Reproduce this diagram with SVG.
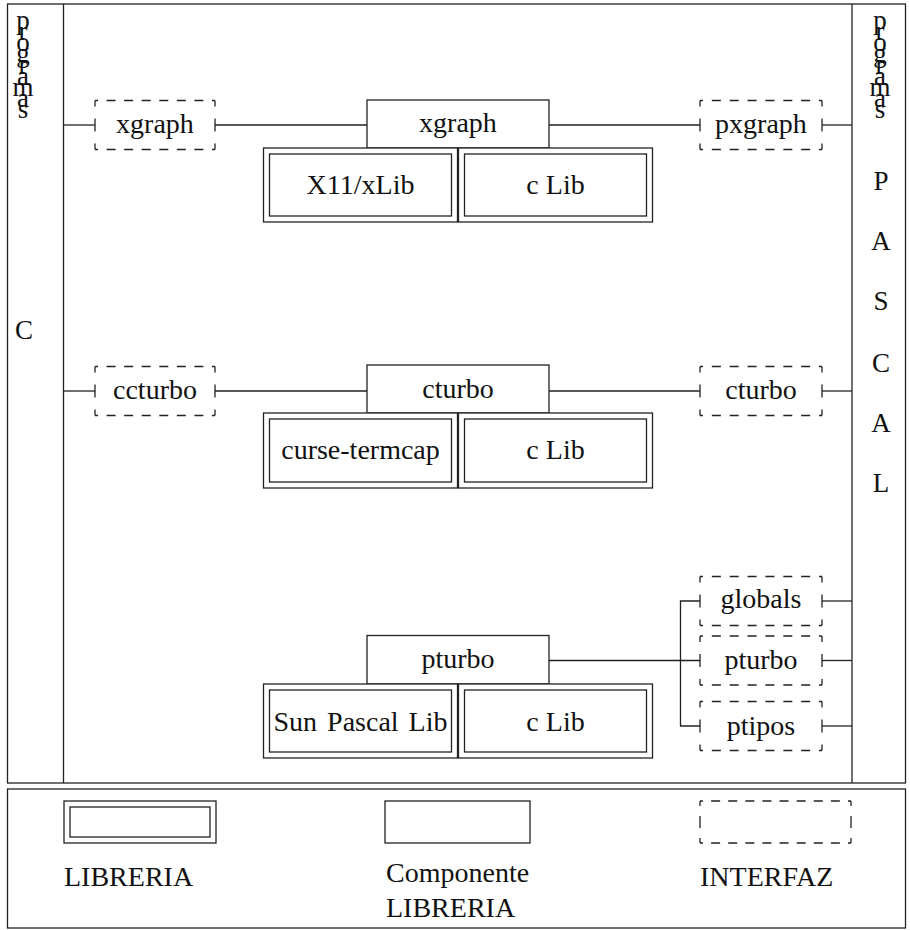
<svg xmlns="http://www.w3.org/2000/svg" width="910" height="930" viewBox="0 0 910 930">
<style>
  .ln { stroke:#222; stroke-width:1.3; fill:none; }
  .bx { stroke:#222; stroke-width:1.3; fill:#fff; }
  .d { stroke:#222; stroke-width:1.3; fill:none; }
  .h120 { stroke-dasharray: 3 8.57 9 8.57 9 8.57 9 8.57 9 8.57 9 8.57 9 8.57 3; }
  .h122 { stroke-dasharray: 3 8.86 9 8.86 9 8.86 9 8.86 9 8.86 9 8.86 9 8.86 3; }
  .h151 { stroke-dasharray: 3 8.11 9 8.11 9 8.11 9 8.11 9 8.11 9 8.11 9 8.11 9 8.11 9 8.11 3; }
  .v49 { stroke-dasharray: 6 12 13 12 6; }
  .v42 { stroke-dasharray: 5 10 12 10 5; }
  text { font-family: Tinos, "Times New Roman", Times, "Nimbus Roman", "Nimbus Roman No9 L", FreeSerif, "Liberation Serif", "DejaVu Serif", serif; fill:#111; }
  .t { font-size:28px; text-anchor:middle; }
  .s { font-size:27px; text-anchor:middle; }
  .lg { font-size:28px; }
</style>

<!-- frames -->
<g id="frame">
  <rect class="ln" x="7.5" y="4" width="898" height="779"/>
  <line class="ln" x1="63.5" y1="4" x2="63.5" y2="783"/>
  <line class="ln" x1="852" y1="4" x2="852" y2="783"/>
  <rect class="ln" x="7.5" y="789" width="898" height="139"/>
</g>

<g id="col-left">
  <text class="s" x="23" y="29">p</text>
  <text class="s" x="23" y="40">r</text>
  <text class="s" x="23" y="51">o</text>
  <text class="s" x="23" y="62">g</text>
  <text class="s" x="23" y="74">r</text>
  <text class="s" x="23" y="85">a</text>
  <text class="s" x="23" y="96">m</text>
  <text class="s" x="23" y="107">a</text>
  <text class="s" x="23" y="118">s</text>
  <text class="s" x="24" y="339">C</text>
</g>

<g id="col-right">
  <text class="s" x="880" y="29">p</text>
  <text class="s" x="880" y="40">r</text>
  <text class="s" x="880" y="51">o</text>
  <text class="s" x="880" y="62">g</text>
  <text class="s" x="880" y="74">r</text>
  <text class="s" x="880" y="85">a</text>
  <text class="s" x="880" y="96">m</text>
  <text class="s" x="880" y="107">a</text>
  <text class="s" x="880" y="118">s</text>
  <text class="s" x="881" y="190">P</text>
  <text class="s" x="881" y="250">A</text>
  <text class="s" x="881" y="310">S</text>
  <text class="s" x="881" y="372">C</text>
  <text class="s" x="881" y="432">A</text>
  <text class="s" x="881" y="492">L</text>
</g>

<!-- connectors -->
<g id="connectors">
  <line class="ln" x1="63.5" y1="125" x2="95" y2="125"/>
  <line class="ln" x1="215" y1="125" x2="367" y2="125"/>
  <line class="ln" x1="549" y1="125" x2="700" y2="125"/>
  <line class="ln" x1="822" y1="125" x2="852" y2="125"/>

  <line class="ln" x1="63.5" y1="391" x2="95" y2="391"/>
  <line class="ln" x1="215" y1="391" x2="367" y2="391"/>
  <line class="ln" x1="549" y1="391" x2="700" y2="391"/>
  <line class="ln" x1="822" y1="391" x2="852" y2="391"/>

  <line class="ln" x1="549" y1="660.5" x2="700" y2="660.5"/>
  <polyline class="ln" points="700,601 680.5,601 680.5,726 700,726"/>
  <line class="ln" x1="822" y1="601" x2="852" y2="601"/>
  <line class="ln" x1="822" y1="660.5" x2="852" y2="660.5"/>
  <line class="ln" x1="822" y1="726" x2="852" y2="726"/>
</g>

<!-- interfaces (dashed) -->
<g id="if-xgraph">
  <line class="d h120" x1="95" y1="100.5" x2="215" y2="100.5"/>
  <line class="d h120" x1="95" y1="149.5" x2="215" y2="149.5"/>
  <line class="d v49" x1="95" y1="100.5" x2="95" y2="149.5"/>
  <line class="d v49" x1="215" y1="100.5" x2="215" y2="149.5"/>
  <text class="t" x="155" y="133">xgraph</text>
</g>
<g id="if-pxgraph">
  <line class="d h122" x1="700" y1="100.5" x2="822" y2="100.5"/>
  <line class="d h122" x1="700" y1="149.5" x2="822" y2="149.5"/>
  <line class="d v49" x1="700" y1="100.5" x2="700" y2="149.5"/>
  <line class="d v49" x1="822" y1="100.5" x2="822" y2="149.5"/>
  <text class="t" x="761" y="133">pxgraph</text>
</g>
<g id="if-ccturbo">
  <line class="d h120" x1="95" y1="366.5" x2="215" y2="366.5"/>
  <line class="d h120" x1="95" y1="415.5" x2="215" y2="415.5"/>
  <line class="d v49" x1="95" y1="366.5" x2="95" y2="415.5"/>
  <line class="d v49" x1="215" y1="366.5" x2="215" y2="415.5"/>
  <text class="t" x="155" y="399">ccturbo</text>
</g>
<g id="if-cturbo">
  <line class="d h122" x1="700" y1="366.5" x2="822" y2="366.5"/>
  <line class="d h122" x1="700" y1="415.5" x2="822" y2="415.5"/>
  <line class="d v49" x1="700" y1="366.5" x2="700" y2="415.5"/>
  <line class="d v49" x1="822" y1="366.5" x2="822" y2="415.5"/>
  <text class="t" x="761" y="399">cturbo</text>
</g>
<g id="if-globals">
  <line class="d h122" x1="700" y1="576.5" x2="822" y2="576.5"/>
  <line class="d h122" x1="700" y1="625.5" x2="822" y2="625.5"/>
  <line class="d v49" x1="700" y1="576.5" x2="700" y2="625.5"/>
  <line class="d v49" x1="822" y1="576.5" x2="822" y2="625.5"/>
  <text class="t" x="761" y="608">globals</text>
</g>
<g id="if-pturbo">
  <line class="d h122" x1="700" y1="636" x2="822" y2="636"/>
  <line class="d h122" x1="700" y1="685" x2="822" y2="685"/>
  <line class="d v49" x1="700" y1="636" x2="700" y2="685"/>
  <line class="d v49" x1="822" y1="636" x2="822" y2="685"/>
  <text class="t" x="761" y="669">pturbo</text>
</g>
<g id="if-ptipos">
  <line class="d h122" x1="700" y1="701.5" x2="822" y2="701.5"/>
  <line class="d h122" x1="700" y1="750.5" x2="822" y2="750.5"/>
  <line class="d v49" x1="700" y1="701.5" x2="700" y2="750.5"/>
  <line class="d v49" x1="822" y1="701.5" x2="822" y2="750.5"/>
  <text class="t" x="761" y="735">ptipos</text>
</g>

<!-- components -->
<g id="comp-xgraph">
  <rect class="bx" x="367" y="100" width="182" height="48"/>
  <text class="t" x="458" y="132">xgraph</text>
</g>
<g id="comp-cturbo">
  <rect class="bx" x="367" y="365" width="182" height="48"/>
  <text class="t" x="458" y="398">cturbo</text>
</g>
<g id="comp-pturbo">
  <rect class="bx" x="367" y="635.5" width="182" height="48.5"/>
  <text class="t" x="458" y="668">pturbo</text>
</g>

<!-- libraries -->
<g id="lib-x11">
  <rect class="bx" x="263.5" y="148" width="194" height="74"/>
  <rect class="bx" x="269.5" y="154" width="182" height="62"/>
  <text class="t" x="360.5" y="194">X11/xLib</text>
</g>
<g id="lib-clib-1">
  <rect class="bx" x="458.5" y="148" width="194" height="74"/>
  <rect class="bx" x="464.5" y="154" width="182" height="62"/>
  <text class="t" x="555.5" y="194">c Lib</text>
</g>
<g id="lib-curses">
  <rect class="bx" x="263.5" y="413" width="194" height="75"/>
  <rect class="bx" x="269.5" y="419" width="182" height="63"/>
  <text class="t" x="360.5" y="459">curse-termcap</text>
</g>
<g id="lib-clib-2">
  <rect class="bx" x="458.5" y="413" width="194" height="75"/>
  <rect class="bx" x="464.5" y="419" width="182" height="63"/>
  <text class="t" x="555.5" y="459">c Lib</text>
</g>
<g id="lib-sunpascal">
  <rect class="bx" x="263.5" y="684" width="194" height="74"/>
  <rect class="bx" x="269.5" y="690" width="182" height="62"/>
  <text class="t" x="360.5" y="731" word-spacing="3">Sun Pascal Lib</text>
</g>
<g id="lib-clib-3">
  <rect class="bx" x="458.5" y="684" width="194" height="74"/>
  <rect class="bx" x="464.5" y="690" width="182" height="62"/>
  <text class="t" x="555.5" y="731">c Lib</text>
</g>

<!-- legend -->
<g id="legend-libreria">
  <rect class="bx" x="64" y="801" width="152" height="42"/>
  <rect class="bx" x="70" y="807" width="140" height="30"/>
  <text class="lg" x="64" y="886">LIBRERIA</text>
</g>
<g id="legend-componente">
  <rect class="bx" x="385" y="801" width="145" height="42"/>
  <text class="lg" x="386" y="882">Componente</text>
  <text class="lg" x="386" y="917">LIBRERIA</text>
</g>
<g id="legend-interfaz">
  <line class="d h151" x1="700" y1="801" x2="851" y2="801"/>
  <line class="d h151" x1="700" y1="843" x2="851" y2="843"/>
  <line class="d v42" x1="700" y1="801" x2="700" y2="843"/>
  <line class="d v42" x1="851" y1="801" x2="851" y2="843"/>
  <text class="lg" x="700" y="886">INTERFAZ</text>
</g>
</svg>
